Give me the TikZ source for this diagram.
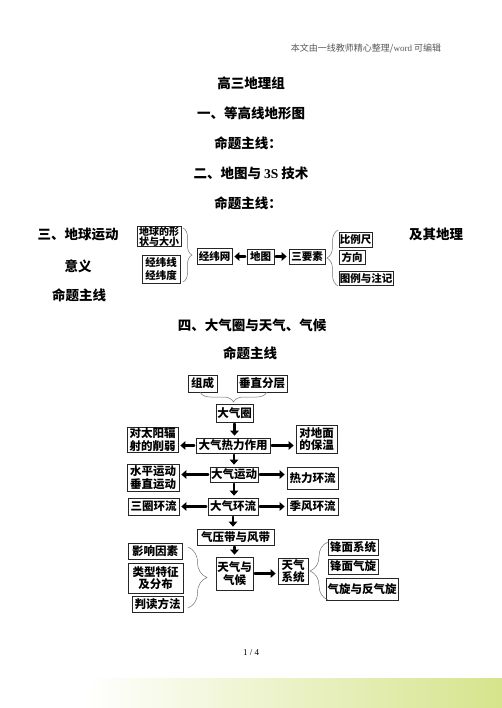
\documentclass[tikz,border=0pt]{standalone}
\usepackage{fontspec}
\setmainfont{Liberation Serif}
\newfontfamily\cjk{Noto Sans CJK SC}
\newfontfamily\tms{Liberation Serif}
\usetikzlibrary{arrows.meta,decorations.pathreplacing}

\begin{document}
\begin{tikzpicture}[x=1pt,y=-1pt,line cap=round,
  box/.style={draw=black!85,line width=0.7pt,inner sep=0pt,align=center,font=\cjk\bfseries\fontsize{11.5}{12.5}\selectfont},
  boxs/.style={box,font=\cjk\bfseries\fontsize{10.5}{12}\selectfont},
  head/.style={font=\cjk\bfseries\fontsize{13.5}{14}\selectfont},
  arr/.style={-{Triangle[length=5pt,width=8.5pt]},line width=2.6pt,shorten <=1.5pt,shorten >=2pt},
  kuo/.style={decorate,draw=black!55,line width=0.5pt}]
\useasboundingbox (0,0) rectangle (502,708);
\fill[white] (0,0) rectangle (502,708);
\shade[left color=white,right color={rgb,255:red,214;green,228;blue,140}] (85,678) rectangle (502,708);
\node[font=\cjk\fontsize{9}{10}\selectfont,text=black!65] (hdr) at (366,48) {本文由一线教师精心整理/{\tms word} 可编辑};
\node[head] (t0) at (251,83) {高三地理组};
\node[head] (t1) at (251,113) {一、等高线地形图};
\node[head] (t2) at (248,143) {命题主线：};
\node[head] (t3) at (251,173) {二、地图与 {\tms 3S} 技术};
\node[head] (t4) at (248,203) {命题主线：};
\node[head] (t5) at (78,234) {三、地球运动};
\node[head] (t6) at (436,234) {及其地理};
\node[head] (t7) at (78,266) {意义};
\node[head] (t8) at (79,295) {命题主线};
\node[head] (t9) at (252,325) {四、大气圈与天气、气候};
\node[head] (t10) at (250,353) {命题主线};
\node[font=\tms\fontsize{9}{10}\selectfont] (pg) at (251,653) {1 / 4};

\node[boxs,minimum width=44,minimum height=19,font=\cjk\bfseries\fontsize{10}{10}\selectfont] (qiu) at (159,236.5) {地球的形\\状与大小};
\node[boxs,minimum width=38,minimum height=28,font=\cjk\bfseries\fontsize{10.5}{13.5}\selectfont] (jwx) at (161,269) {经纬线\\经纬度};
\node[boxs,minimum width=35,minimum height=16] (jwn) at (214.5,256.5) {经纬网};
\node[boxs,minimum width=27,minimum height=15] (ditu) at (260.5,256.5) {地图};
\node[boxs,minimum width=36,minimum height=15] (sys) at (307,256.5) {三要素};
\node[boxs,minimum width=33,minimum height=15] (blc) at (355.5,239.5) {比例尺};
\node[boxs,minimum width=26,minimum height=14] (fx) at (352,257.5) {方向};
\node[boxs,minimum width=54,minimum height=14] (tl) at (366,278) {图例与注记};
\draw[arr] (ditu.west) -- (ditu.west -| jwn.east);
\draw[arr] (ditu.east) -- (ditu.east -| sys.west);
\draw[kuo,decoration={brace,amplitude=9pt}] (183,228) -- (183,282);
\draw[kuo,decoration={brace,amplitude=11pt}] (338,286) -- (338,230);

\node[box,minimum width=29,minimum height=17] (zc) at (202.5,383.5) {组成};
\node[box,minimum width=50,minimum height=17] (czfc) at (262,383.5) {垂直分层};
\node[box,minimum width=37,minimum height=18] (dqq) at (234.5,413) {大气圈};
\node[box,minimum width=74,minimum height=15] (rlzy) at (233,445.5) {大气热力作用};
\node[box,minimum width=51,minimum height=25] (xr) at (152.5,439.5) {对太阳辐\\射的削弱};
\node[box,minimum width=41,minimum height=28] (bw) at (316.5,439) {对地面\\的保温};
\node[box,minimum width=48,minimum height=15] (ydong) at (234,474.5) {大气运动};
\node[box,minimum width=52,minimum height=27] (spcz) at (153,477.5) {水平运动\\垂直运动};
\node[box,minimum width=51,minimum height=22] (rlhl) at (312.5,478) {热力环流};
\node[box,minimum width=50,minimum height=17] (hl) at (233,506.5) {大气环流};
\node[box,minimum width=51,minimum height=17] (sq) at (153.5,506.5) {三圈环流};
\node[box,minimum width=51,minimum height=17] (jf) at (312.5,506.5) {季风环流};
\node[box,minimum width=77,minimum height=16] (qyd) at (235.5,537) {气压带与风带};
\node[box,minimum width=37,minimum height=33] (tq) at (234.5,573.5) {天气与\\气候};
\node[box,minimum width=54,minimum height=16] (yx) at (155,551) {影响因素};
\node[box,minimum width=55,minimum height=30] (lx) at (155.5,578) {类型特征\\及分布};
\node[box,minimum width=51,minimum height=16] (pd) at (157.5,604) {判读方法};
\node[box,minimum width=30,minimum height=26] (xt) at (293,571) {天气\\系统};
\node[box,minimum width=50,minimum height=16] (fm) at (353,547) {锋面系统};
\node[box,minimum width=50,minimum height=15] (fmqx) at (353,566.5) {锋面气旋};
\node[box,minimum width=72,minimum height=22] (qx) at (362,589) {气旋与反气旋};
\draw[kuo,decoration={brace,amplitude=10pt}] (267,392) -- (200,392);
\draw[arr] (dqq.south) -- (dqq.south |- rlzy.north);
\draw[arr] (rlzy.west) -- (rlzy.west -| xr.east);
\draw[arr] (rlzy.east) -- (rlzy.east -| bw.west);
\draw[arr] (rlzy.south -| ydong.south) -- (ydong.north);
\draw[arr] (ydong.west) -- (ydong.west -| spcz.east);
\draw[arr] (ydong.east) -- (ydong.east -| rlhl.west);
\draw[arr] (ydong.south) -- (ydong.south |- hl.north);
\draw[arr] (hl.west) -- (hl.west -| sq.east);
\draw[arr] (hl.east) -- (hl.east -| jf.west);
\draw[arr] (hl.south) -- (hl.south |- qyd.north);
\draw[arr] (qyd.south -| tq.north) -- (tq.north);
\draw[arr] (tq.east) -- (tq.east -| xt.west);
\draw[kuo,decoration={brace,amplitude=19pt}] (188,547) -- (188,608);
\draw[kuo,decoration={brace,amplitude=18pt}] (328,600) -- (328,542);
\end{tikzpicture}
\end{document}
